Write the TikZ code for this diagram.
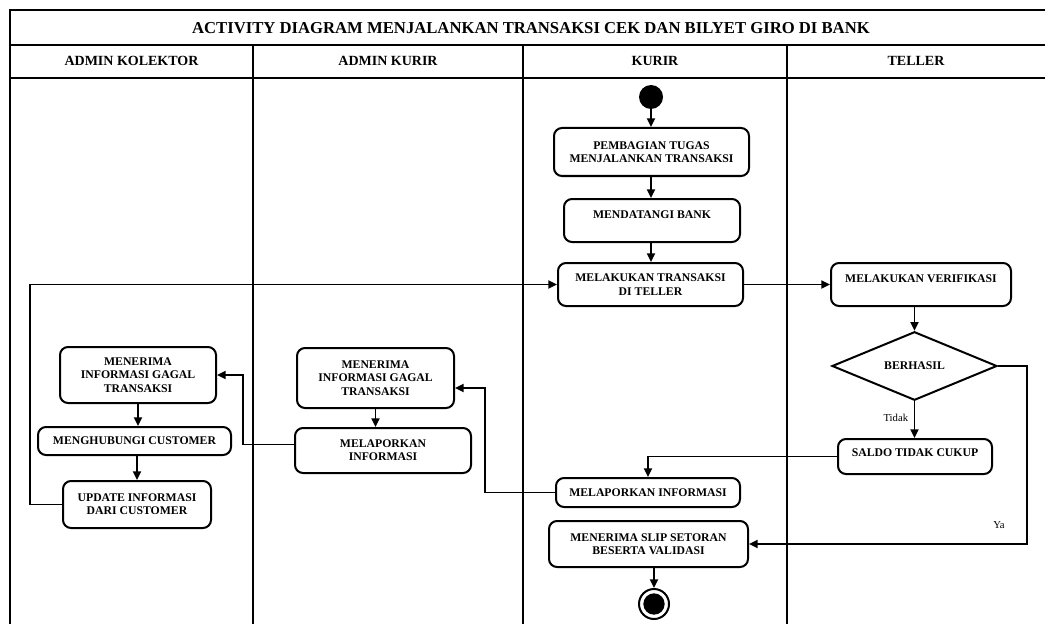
\documentclass[tikz,border=0pt]{standalone}
\usepackage{fontspec}
\setmainfont{Liberation Serif}
\usetikzlibrary{arrows.meta,shapes.geometric,calc}
\begin{document}
\begin{tikzpicture}[x=0.75pt,y=-0.75pt,
  sz/.style 2 args={minimum width=#1*0.75pt,minimum height=#2*0.75pt},
  act/.style={draw,line width=1.5pt,rounded corners=6pt,align=center,inner sep=0pt,
    font=\fontsize{8.8}{10}\selectfont\bfseries},
  txt/.style={align=center,inner sep=0pt,font=\fontsize{8.8}{10}\selectfont\bfseries},
  lbl/.style={inner sep=0pt,font=\fontsize{8}{9.5}\selectfont},
  hdr/.style={inner sep=0pt,font=\fontsize{10.5}{12}\selectfont\bfseries},
  flow/.style={line width=1.4pt,-{Triangle[length=6.5pt,width=6pt]}},
  frame/.style={line width=1.6pt}]
\useasboundingbox (0,0) rectangle (1045,624);
\begin{scope}
\clip (0,0) rectangle (1045,624);
% frame
\draw[frame] (10,630) -- (10,10) -- (1050,10);
\draw[frame] (10,45) -- (1050,45);
\draw[frame] (10,78) -- (1050,78);
\draw[frame] (253,45) -- (253,630);
\draw[frame] (523,45) -- (523,630);
\draw[frame] (787,45) -- (787,630);
\end{scope}
\node[font=\fontsize{12.5}{14}\selectfont\bfseries,inner sep=0pt] (title) at (531,28) {ACTIVITY DIAGRAM MENJALANKAN TRANSAKSI CEK DAN BILYET GIRO DI BANK};
\node[hdr] (h1) at (131.5,61) {ADMIN KOLEKTOR};
\node[hdr] (h2) at (388,61) {ADMIN KURIR};
\node[hdr] (h3) at (655,61) {KURIR};
\node[hdr] (h4) at (916,61) {TELLER};

% kurir
\node[circle,fill,inner sep=0pt,sz={24}{24}] (start) at (651,97) {};
\node[act,sz={195}{48}] (pemb) at (651.5,152) {PEMBAGIAN TUGAS\\MENJALANKAN TRANSAKSI};
\node[act,sz={176}{43}] (datang) at (652,220.5) {};
\node[txt] (datangT) at (652,215) {MENDATANGI BANK};
\node[act,sz={185}{43}] (trans) at (650.5,284.5) {MELAKUKAN TRANSAKSI\\DI TELLER};
\node[act,sz={184}{29}] (laporK) at (648,492.5) {MELAPORKAN INFORMASI};
\node[act,sz={199}{46}] (slip) at (648.5,544) {MENERIMA SLIP SETORAN\\BESERTA VALIDASI};
\node[circle,draw,line width=1.5pt,inner sep=0pt,sz={30}{30}] (end) at (654,604) {};
\fill (end.center) circle (8pt);

% teller
\node[act,sz={180}{43}] (verif) at (921,284.5) {};
\node[txt] (verifT) at (921,279) {MELAKUKAN VERIFIKASI};
\node[diamond,draw,line width=1.5pt,inner sep=0pt,sz={165}{62},font=\fontsize{8.8}{10}\selectfont\bfseries] (dec) at (914.5,366) {BERHASIL};
\node[act,sz={154}{35}] (saldo) at (915,456.5) {};
\node[txt] (saldoT) at (915,453) {SALDO TIDAK CUKUP};

% admin kurir
\node[act,sz={157}{60}] (terimaAK) at (375.5,378) {MENERIMA\\INFORMASI GAGAL\\TRANSAKSI};
\node[act,sz={176}{45}] (laporAK) at (383,450.5) {MELAPORKAN\\INFORMASI};

% admin kolektor
\node[act,sz={156}{56}] (terimaKol) at (138,375) {MENERIMA\\INFORMASI GAGAL\\TRANSAKSI};
\node[act,sz={193}{28}] (hubungi) at (134.5,441) {MENGHUBUNGI CUSTOMER};
\node[act,sz={148}{47}] (update) at (137,504.5) {UPDATE INFORMASI\\DARI CUSTOMER};

% connectors
\draw[flow] (start) -- (start |- pemb.north);
\draw[flow] (start |- pemb.south) -- (start |- datang.north);
\draw[flow] (start |- datang.south) -- (start |- trans.north);
\draw[flow] (trans.east) -- (verif.west);
\draw[flow] (dec |- verif.south) -- (dec.north);
\draw[flow] (dec.south) -- node[lbl,pos=0.45,xshift=-14pt] (tidak) {Tidak} (dec.south |- saldo.north);
\coordinate (yaC) at (1027,544);
\draw[flow] (dec.east) -| (yaC) -- (slip.east);
\node[lbl] (ya) at (999,525) {Ya};
\draw[flow] (saldo.west) -| (laporK.north);
\coordinate (t2) at ($(terimaAK.east)+(0,10)$);
\coordinate (c2) at (485,0);
\draw[flow] (laporK.west) -| (c2 |- t2) -- (t2);
\draw[flow] (terimaAK.south) -- (terimaAK.south |- laporAK.north);
\coordinate (c3) at (243,0);
\draw[flow] ($(laporAK.west)+(0,-6)$) -| (c3 |- terimaKol.east) -- (terimaKol.east);
\draw[flow] (terimaKol.south) -- (terimaKol.south |- hubungi.north);
\draw[flow] (update |- hubungi.south) -- (update.north);
\coordinate (c1) at (30,0);
\draw[flow] (update.west) -| (c1 |- trans.west) -- (trans.west);
\draw[flow] (end |- slip.south) -- (end.north);
\end{tikzpicture}
\end{document}
